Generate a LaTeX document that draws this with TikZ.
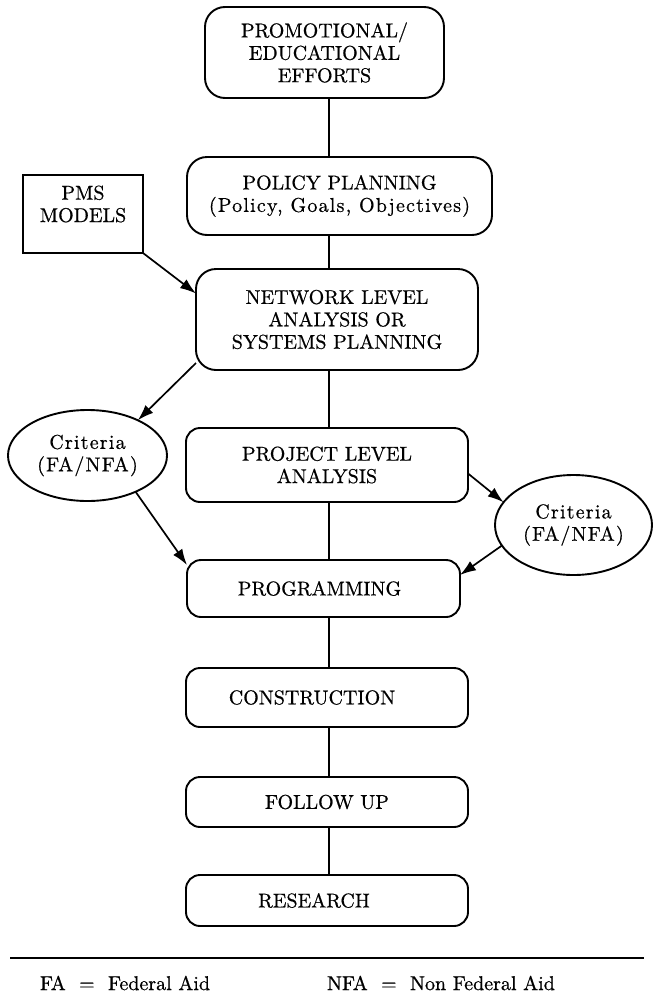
\documentclass[tikz,border=0pt]{standalone}
\usepackage{fontspec}
\setmainfont{lmroman10-regular.otf}[BoldFont=lmroman10-bold.otf, ItalicFont=lmroman10-italic.otf]
\usetikzlibrary{shapes.geometric,arrows.meta}
% slightly heavier type for all labels, wider tracking for mixed-case lines
\newcommand{\labelfont}{\fontsize{10}{11.2}\selectfont\addfontfeatures{FakeBold=0.6}}
\newcommand{\wide}{\addfontfeatures{LetterSpace=6,FakeBold=0.6}}
\begin{document}
\begin{tikzpicture}[x=0.5pt,y=-0.5pt,
  every node/.style={font=\labelfont, align=center, inner sep=0pt, outer sep=0pt},
  stage/.style={draw, line width=0.95pt, rounded corners=7pt},
  bigstage/.style={stage, rounded corners=10pt},
  crit/.style={draw, ellipse, line width=0.95pt},
  link/.style={line width=0.8pt},
  arr/.style={line width=0.85pt, -{Latex[length=8pt,width=5.5pt]}},
]
\useasboundingbox (0,0) rectangle (654,991);

% main column
\node[bigstage, minimum width=119.5pt, minimum height=45.5pt] (prom) at (324.5,52.5)
  {PROMOTIONAL/\\EDUCATIONAL\\EFFORTS};
\node[bigstage, minimum width=152.5pt, minimum height=39pt] (policy) at (339.5,196)
  {POLICY PLANNING\\{\wide(Policy, Goals, Objectives)}};
\node[bigstage, minimum width=141pt, minimum height=50.5pt] (net) at (337,319.5)
  {NETWORK LEVEL\\ANALYSIS OR\\SYSTEMS PLANNING};
\node[stage, minimum width=141pt, minimum height=37pt] (proj) at (327,465)
  {PROJECT LEVEL\\ANALYSIS};
\node[stage, minimum width=136.5pt, minimum height=28.5pt] (prog) at (323.5,588.5)
  {PROGRAMMING\hspace*{4pt}};
\node[stage, minimum width=141pt, minimum height=29.5pt] (cons) at (327,697.5)
  {CONSTRUCTION\hspace*{15pt}};
\node[stage, minimum width=141pt, minimum height=25pt] (foll) at (327,802)
  {FOLLOW UP};
\node[stage, minimum width=141pt, minimum height=25.5pt] (res) at (327,900.5)
  {RESEARCH\hspace*{13pt}};

% side inputs
\node[draw, line width=0.95pt, minimum width=60pt, minimum height=39pt] (pms) at (83,214) {};
\node (pmstext) at (83,204) {PMS\\MODELS};
\node[crit, minimum width=79.5pt, minimum height=45.5pt] (critL) at (87.5,455.5)
  {{\wide Criteria}\\{\wide(FA/NFA)}};
\node[crit, minimum width=78.5pt, minimum height=50pt] (critR) at (573.5,525)
  {{\wide Criteria}\\{\wide(FA/NFA)}};

% vertical spine
\coordinate (spine) at (329,0);
\draw[link] (prom.south -| spine) -- (policy.north -| spine);
\draw[link] (policy.south -| spine) -- (net.north -| spine);
\draw[link] (net.south -| spine) -- (proj.north -| spine);
\draw[link] (proj.south -| spine) -- (prog.north -| spine);
\draw[link] (prog.south -| spine) -- (cons.north -| spine);
\draw[link] (cons.south -| spine) -- (foll.north -| spine);
\draw[link] (foll.south -| spine) -- (res.north -| spine);

% arrows
\draw[arr] (pms.south east) -- ([yshift=13pt]net.west);
\draw[arr] ([yshift=3.5pt]net.south west) -- (critL.35);
\draw[arr] (critL.-37) -- ([yshift=-2.5pt]prog.north west);
\draw[arr] ([yshift=-4.25pt]proj.east) -- (critR.162);
\draw[arr] (critR.196) -- ([yshift=6.75pt]prog.east);

% legend
\coordinate (ruleL) at (10,958);
\coordinate (ruleR) at (644,958);
\draw[line width=1pt] (ruleL) -- (ruleR);
\node[anchor=west] (faLeg) at (40,983) {FA~~=~~Federal Aid};
\node[anchor=west] (nfaLeg) at (327,983) {NFA~~=~~Non Federal Aid};
\end{tikzpicture}
\end{document}
